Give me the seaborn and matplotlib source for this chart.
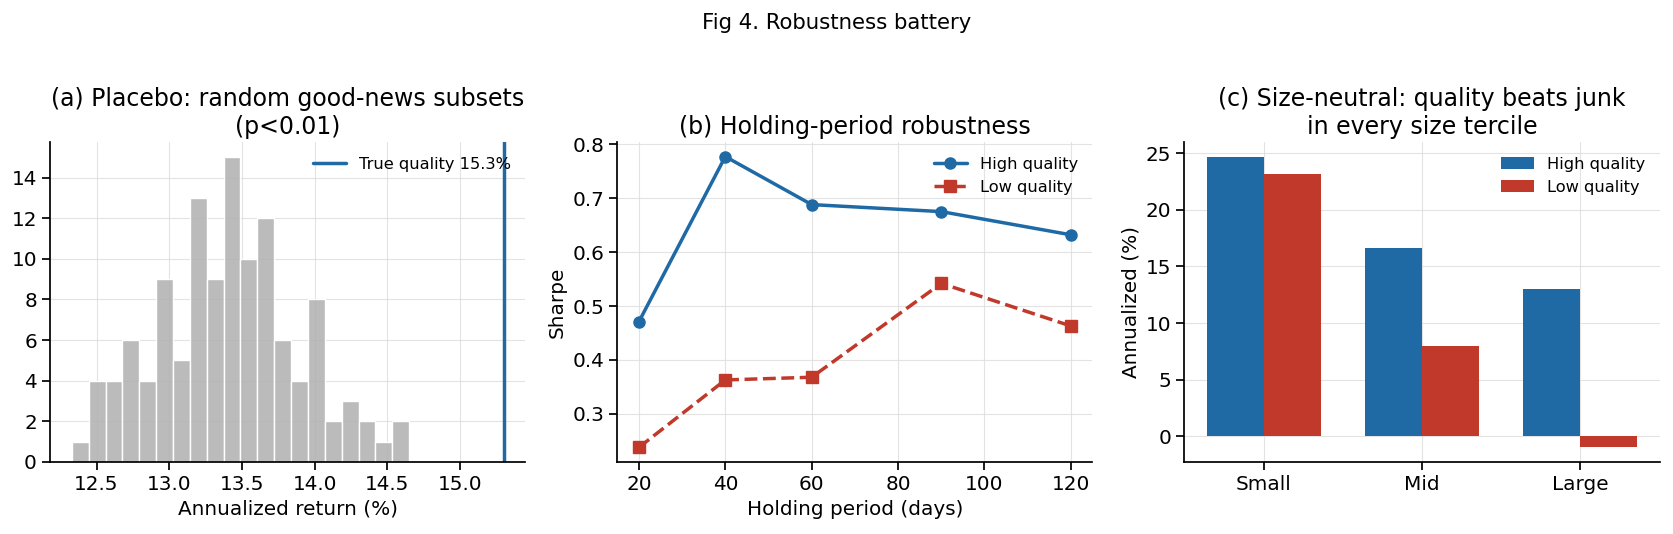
import matplotlib
matplotlib.use("Agg")
import matplotlib.pyplot as plt
import numpy as np
import pandas as pd
import seaborn as sns

BLUE = "#1f6aa5"
RED = "#c0392b"

# (a) placebo distribution: counts per bin
PLACEBO_COUNTS = [1, 4, 4, 6, 4, 9, 5, 13, 9, 15, 10, 12, 6, 4, 8, 2, 3, 2, 1, 2]
PLACEBO_RANGE = (12.33, 14.65)
TRUE_QUALITY = 15.3
COUNT_TICKS = [0, 2, 4, 6, 8, 10, 12, 14]

# (b) holding period
HOLD_DAYS = [20, 40, 60, 90, 120]
SHARPE_HIGH = [0.471, 0.777, 0.688, 0.675, 0.632]
SHARPE_LOW = [0.238, 0.363, 0.368, 0.542, 0.463]

# (c) size terciles
TERCILES = ["Small", "Mid", "Large"]
SIZE_HIGH = [24.7, 16.6, 13.0]
SIZE_LOW = [23.2, 8.0, -0.97]


def main() -> None:
    sns.set_theme(style="ticks")
    plt.rcParams["font.family"] = ["DejaVu Sans"]
    plt.rcParams.update({
        "text.color": "black",
        "axes.labelcolor": "black",
        "xtick.color": "black",
        "ytick.color": "black",
        "axes.edgecolor": "black",
    })

    fig = plt.figure(figsize=(16.73, 5.34), dpi=100)
    ax_a = fig.add_axes([0.030, 0.135, 0.284, 0.599])
    ax_b = fig.add_axes([0.369, 0.135, 0.284, 0.599])
    ax_c = fig.add_axes([0.708, 0.135, 0.284, 0.599])
    fig.suptitle("Fig 4. Robustness battery", fontsize=15.3, y=0.975)

    # (a)
    n_bins = len(PLACEBO_COUNTS)
    width = (PLACEBO_RANGE[1] - PLACEBO_RANGE[0]) / n_bins
    centers = PLACEBO_RANGE[0] + width * (np.arange(n_bins) + 0.5)
    sns.histplot(x=centers, weights=PLACEBO_COUNTS, bins=n_bins, binrange=PLACEBO_RANGE,
                 color="#b0b0b0", alpha=0.85, edgecolor="white", linewidth=1.0, ax=ax_a)
    ax_a.axvline(TRUE_QUALITY, color=BLUE, lw=2.5, label=f"True quality {TRUE_QUALITY}%")
    ax_a.set_title("(a) Placebo: random good-news subsets\n(p<0.01)", fontsize=17)
    ax_a.set_xlabel("Annualized return (%)", fontsize=14.4)
    ax_a.set_ylabel("")
    ax_a.set_yticks(COUNT_TICKS)
    ax_a.legend(loc="upper right", frameon=False, fontsize=11.7)

    # (b)
    ax_b.plot(HOLD_DAYS, SHARPE_HIGH, "-o", color=BLUE, lw=2.5, ms=8, label="High quality")
    ax_b.plot(HOLD_DAYS, SHARPE_LOW, "--s", color=RED, lw=2.5, ms=8, label="Low quality")
    ax_b.set_title("(b) Holding-period robustness", fontsize=17)
    ax_b.set_xlabel("Holding period (days)", fontsize=14.4)
    ax_b.set_ylabel("Sharpe", fontsize=14.4)
    ax_b.set_yticks([0.3, 0.4, 0.5, 0.6, 0.7, 0.8])
    ax_b.legend(loc="upper right", frameon=False, fontsize=11.7)

    # (c)
    df = pd.DataFrame({
        "tercile": TERCILES * 2,
        "ret": SIZE_HIGH + SIZE_LOW,
        "group": ["High quality"] * 3 + ["Low quality"] * 3,
    })
    sns.barplot(data=df, x="tercile", y="ret", hue="group", palette=[BLUE, RED],
                width=0.72, saturation=1, linewidth=0, ax=ax_c)
    ax_c.set_title("(c) Size-neutral: quality beats junk\nin every size tercile", fontsize=17)
    ax_c.set_xlabel("")
    ax_c.set_ylabel("Annualized (%)", fontsize=14.4)
    ax_c.set_yticks([0, 5, 10, 15, 20, 25])
    ax_c.legend(loc="upper right", frameon=False, fontsize=11.7)

    for ax in (ax_a, ax_b, ax_c):
        ax.grid(True, color="#dddddd", lw=0.8, alpha=0.8)
        ax.set_axisbelow(True)
        ax.tick_params(labelsize=14.4)
        sns.despine(ax=ax)

    fig.savefig("out.png", dpi=100)
    plt.close(fig)


if __name__ == "__main__":
    main()
